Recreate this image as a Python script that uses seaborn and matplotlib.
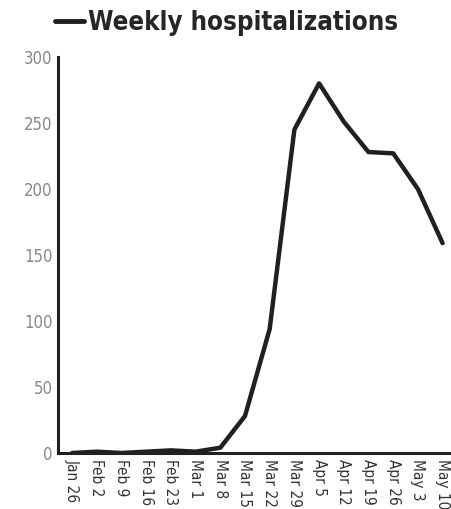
import matplotlib
matplotlib.use("Agg")
import matplotlib.pyplot as plt
import seaborn as sns
import pandas as pd

weeks = ["Jan 26", "Feb 2", "Feb 9", "Feb 16", "Feb 23", "Mar 1", "Mar 8", "Mar 15",
         "Mar 22", "Mar 29", "Apr 5", "Apr 12", "Apr 19", "Apr 26", "May 3", "May 10"]
hosp = [0, 1, 0, 1, 2, 1, 4, 28, 94, 245, 280, 251, 228, 227, 200, 159]
y_ticks = [0, 50, 100, 150, 200, 250, 300]

df = pd.DataFrame({"i": range(len(weeks)), "n": hosp})

sns.set_style("white")
plt.rcParams["font.family"] = ["DejaVu Sans"]
plt.rcParams["font.stretch"] = "condensed"

ink = "#231f20"
fig = plt.figure(figsize=(4.51, 5.09), dpi=100)
ax = fig.add_axes([58 / 451, 1 - 453 / 509, 1 - 58 / 451, (453 - 57) / 509])

sns.lineplot(data=df, x="i", y="n", ax=ax, color=ink, linewidth=3.2,
             label="Weekly hospitalizations")

ax.set_xlim(-0.57, 15.34)
ax.set_ylim(0, 300)
ax.set_yticks(y_ticks)
ax.set_xticks(range(len(weeks)))
ax.set_xticklabels(weeks, rotation=270, fontsize=11, color="#333333")
ax.set_xlabel("")
ax.set_ylabel("")

for s in ["top", "right"]:
    ax.spines[s].set_visible(False)
for s in ["left", "bottom"]:
    ax.spines[s].set_color(ink)
    ax.spines[s].set_linewidth(2.2)

ax.tick_params(axis="y", direction="in", length=7, width=2.2, color=ink,
               labelsize=12, labelcolor="#888888", pad=4)
ax.tick_params(axis="x", length=0, pad=4)

leg = ax.legend(loc="lower left", bbox_to_anchor=(-0.008, 1.052), frameon=False,
                handlelength=1.15, handletextpad=0.15, borderaxespad=0, borderpad=0,
                prop={"size": 18.5, "weight": "bold", "stretch": "condensed"})
for h in leg.get_lines():
    h.set_linewidth(3.5)

fig.savefig("out.png", dpi=100)
